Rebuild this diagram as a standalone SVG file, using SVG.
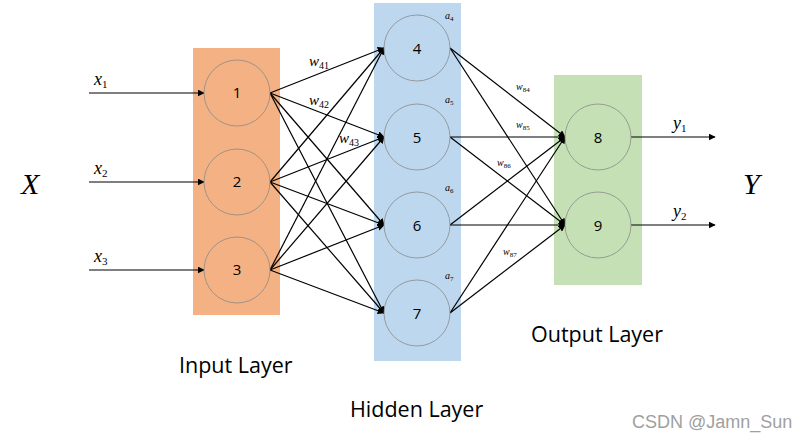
<svg xmlns="http://www.w3.org/2000/svg" width="807" height="440" viewBox="0 0 807 440">
<style>
.lay{stroke:none}
.nd{stroke:#8a8a8a;stroke-width:0.8}
.num{font-family:"Open Sans","Liberation Sans",sans-serif;font-size:15px;fill:#000;text-anchor:middle}
.ed{stroke:#000;stroke-width:1.2;fill:none;marker-end:url(#ah)}
.it{font-family:"Liberation Serif",serif;font-style:italic;fill:#000}
.sub{font-family:"Liberation Serif",serif;font-style:normal}
.cap{font-family:"Open Sans","Liberation Sans",sans-serif;font-size:21.5px;fill:#000}
</style>
<defs>
<marker id="ah" viewBox="0 0 10 10" refX="9" refY="5" markerWidth="7" markerHeight="7" markerUnits="userSpaceOnUse" orient="auto">
<path d="M0,0 L10,5 L0,10 z" fill="#000"/>
</marker>
</defs>
<rect width="807" height="440" fill="#fff"/>
<g id="layers">
<rect class="lay" x="193" y="48" width="87" height="267" fill="#F4B183"/>
<rect class="lay" x="374" y="3" width="87" height="358" fill="#BDD7EE"/>
<rect class="lay" x="554" y="75" width="88" height="210" fill="#C5E0B4"/>
</g>
<g id="connectors">
<line class="ed" x1="89" y1="93" x2="204" y2="93"/>
<line class="ed" x1="89" y1="182" x2="204" y2="182"/>
<line class="ed" x1="89" y1="270" x2="204" y2="270"/>
<line class="ed" x1="270" y1="93" x2="384" y2="48"/>
<line class="ed" x1="270" y1="93" x2="384" y2="137"/>
<line class="ed" x1="270" y1="93" x2="384" y2="225"/>
<line class="ed" x1="270" y1="93" x2="384" y2="313"/>
<line class="ed" x1="270" y1="182" x2="384" y2="48"/>
<line class="ed" x1="270" y1="182" x2="384" y2="137"/>
<line class="ed" x1="270" y1="182" x2="384" y2="225"/>
<line class="ed" x1="270" y1="182" x2="384" y2="313"/>
<line class="ed" x1="270" y1="270" x2="384" y2="48"/>
<line class="ed" x1="270" y1="270" x2="384" y2="137"/>
<line class="ed" x1="270" y1="270" x2="384" y2="225"/>
<line class="ed" x1="270" y1="270" x2="384" y2="313"/>
<line class="ed" x1="450" y1="48" x2="565" y2="137"/>
<line class="ed" x1="450" y1="48" x2="565" y2="225"/>
<line class="ed" x1="450" y1="137" x2="565" y2="137"/>
<line class="ed" x1="450" y1="137" x2="565" y2="225"/>
<line class="ed" x1="450" y1="225" x2="565" y2="137"/>
<line class="ed" x1="450" y1="225" x2="565" y2="225"/>
<line class="ed" x1="450" y1="313" x2="565" y2="137"/>
<line class="ed" x1="450" y1="313" x2="565" y2="225"/>
<line class="ed" x1="631" y1="137" x2="715" y2="137"/>
<line class="ed" x1="631" y1="225" x2="715" y2="225"/>
</g>
<g id="n1"><circle class="nd" cx="237" cy="93" r="33" fill="#F4B183"/><text class="num" x="237" y="98">1</text></g>
<g id="n2"><circle class="nd" cx="237" cy="182" r="33" fill="#F4B183"/><text class="num" x="237" y="187">2</text></g>
<g id="n3"><circle class="nd" cx="237" cy="270" r="33" fill="#F4B183"/><text class="num" x="237" y="275">3</text></g>
<g id="n4"><circle class="nd" cx="417" cy="48" r="33" fill="#BDD7EE"/><text class="num" x="417" y="54">4</text></g>
<g id="n5"><circle class="nd" cx="417" cy="137" r="33" fill="#BDD7EE"/><text class="num" x="417" y="143">5</text></g>
<g id="n6"><circle class="nd" cx="417" cy="225" r="33" fill="#BDD7EE"/><text class="num" x="417" y="231">6</text></g>
<g id="n7"><circle class="nd" cx="417" cy="313" r="33" fill="#BDD7EE"/><text class="num" x="417" y="319">7</text></g>
<g id="n8"><circle class="nd" cx="598" cy="137" r="33" fill="#C5E0B4"/><text class="num" x="598" y="143">8</text></g>
<g id="n9"><circle class="nd" cx="598" cy="225" r="33" fill="#C5E0B4"/><text class="num" x="598" y="231">9</text></g>
<g id="labels">
<text class="it" x="21" y="194" font-size="30">X</text>
<text class="it" x="743" y="194" font-size="30">Y</text>
<text class="it" x="94" y="85" font-size="18">x<tspan class="sub" font-size="11" dy="3">1</tspan></text>
<text class="it" x="94" y="174" font-size="18">x<tspan class="sub" font-size="11" dy="3">2</tspan></text>
<text class="it" x="94" y="262" font-size="18">x<tspan class="sub" font-size="11" dy="3">3</tspan></text>
<text class="it" x="673" y="129" font-size="18">y<tspan class="sub" font-size="11" dy="3">1</tspan></text>
<text class="it" x="673" y="217" font-size="18">y<tspan class="sub" font-size="11" dy="3">2</tspan></text>
<text class="it" x="309" y="66" font-size="15">w<tspan class="sub" font-size="10" dy="3">41</tspan></text>
<text class="it" x="309" y="105" font-size="15">w<tspan class="sub" font-size="10" dy="3">42</tspan></text>
<text class="it" x="339" y="143" font-size="15">w<tspan class="sub" font-size="10" dy="3">43</tspan></text>
<text class="it" x="445" y="19" font-size="10">a<tspan class="sub" font-size="7" dy="2">4</tspan></text>
<text class="it" x="445" y="103" font-size="10">a<tspan class="sub" font-size="7" dy="2">5</tspan></text>
<text class="it" x="445" y="191" font-size="10">a<tspan class="sub" font-size="7" dy="2">6</tspan></text>
<text class="it" x="445" y="279" font-size="10">a<tspan class="sub" font-size="7" dy="2">7</tspan></text>
<text class="it" x="516" y="90" font-size="10">w<tspan class="sub" font-size="7" dy="2">84</tspan></text>
<text class="it" x="516" y="128" font-size="10">w<tspan class="sub" font-size="7" dy="2">85</tspan></text>
<text class="it" x="497" y="166" font-size="10">w<tspan class="sub" font-size="7" dy="2">86</tspan></text>
<text class="it" x="503" y="255" font-size="10">w<tspan class="sub" font-size="7" dy="2">87</tspan></text>
<text class="cap" x="179" y="373">Input Layer</text>
<text class="cap" x="350" y="417">Hidden Layer</text>
<text class="cap" x="531" y="342">Output Layer</text>
<text x="632" y="428" font-family="Liberation Sans,Arial,sans-serif" font-size="18" fill="#a0a0a0">CSDN @Jamn_Sun</text>
</g>
</svg>
